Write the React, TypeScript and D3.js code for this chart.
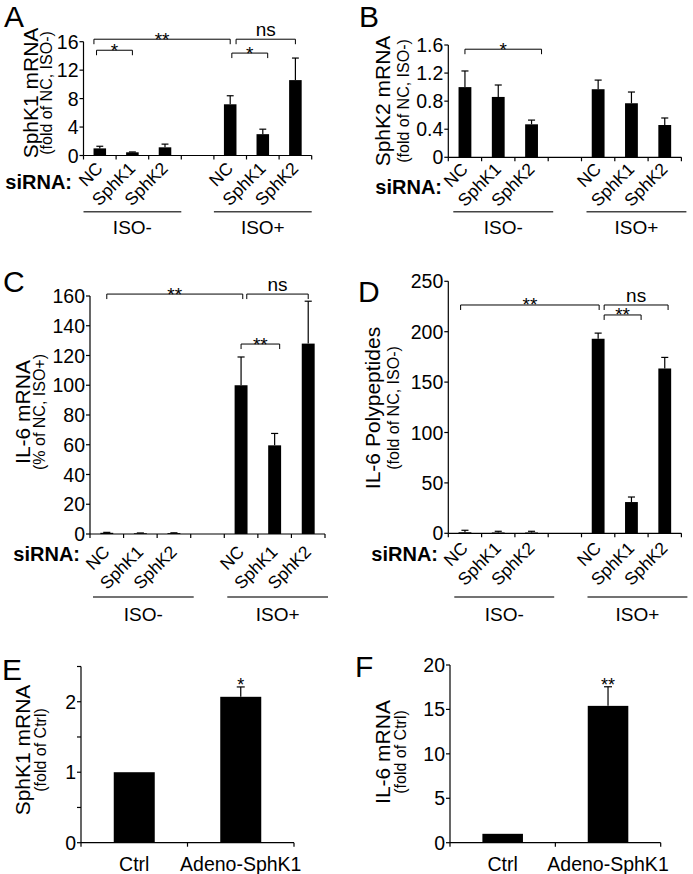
import React from "react";
import * as d3 from "d3";

// ---------- data ----------
const siRNA = ["NC", "SphK1", "SphK2"];
const isoGroups = ["ISO-", "ISO+"];
const siSlots = [0, 1, 2, 4, 5, 6];
const adenoCats = ["Ctrl", "Adeno-SphK1"];

const aMean = [1.0, 0.45, 1.15, 7.2, 3.0, 10.6];
const aSem = [0.3, 0.05, 0.45, 1.2, 0.7, 3.1];
const aTicks = [0, 4, 8, 12, 16];
const aBrackets: [number, number, number, string][] = [
  [-0.18, 4, 16.35, "**"],
  [4.18, 6, 16.35, "ns"],
  [-0.1, 1, 14.8, "*"],
  [4.05, 5.15, 14.4, "*"],
];

const bMean = [1.0, 0.86, 0.47, 0.97, 0.77, 0.46];
const bSem = [0.23, 0.17, 0.06, 0.13, 0.16, 0.1];
const bTicks = [0, 0.4, 0.8, 1.2, 1.6];
const bBrackets: [number, number, number, string][] = [[0, 2.3, 1.54, "*"]];

const cMean = [0.8, 0.5, 0.6, 100, 59.6, 128];
const cSem = [0.3, 0.2, 0.2, 19, 8, 28.5];
const cTicks = [0, 20, 40, 60, 80, 100, 120, 140, 160];
const cBrackets: [number, number, number, string][] = [
  [0, 4.05, 161.3, "**"],
  [4.17, 6, 161.3, "ns"],
  [4, 5.15, 127.7, "**"],
];

const dMean = [1.0, 0.8, 0.8, 193, 31, 163.5];
const dSem = [2, 1.2, 1.2, 5.6, 5, 11];
const dTicks = [0, 50, 100, 150, 200, 250];
const dBrackets: [number, number, number, string][] = [
  [-0.13, 4.03, 226.5, "**"],
  [4.18, 6.1, 226.5, "ns"],
  [4.18, 5.29, 216.6, "**"],
];

const eMean = [1.0, 2.07];
const eSem = [0, 0.14];
const eTicks = [0, 0.5, 1, 1.5, 2, 2.5];
const eLabelTicks = [0, 1, 2];
const eStars = ["", "*"];

const fMean = [1.0, 15.4];
const fSem = [0, 2.15];
const fTicks = [0, 5, 10, 15, 20];
const fStars = ["", "**"];

// ---------- drawing ----------
const FONT = "'Liberation Sans', Arial, Helvetica, sans-serif";

type Layout = {
  x0: number; x1: number; yBase: number; yTop: number;
  titleX: number; subX: number; titleY: number;
  letterX: number; letterY: number;
  siX?: number; siY?: number;
  catDx?: number; catDy?: number;
  lineY?: number; lineOff?: number; isoY?: number;
};

function fmt(t: number) {
  return t === 0 ? "0" : String(+t.toFixed(2));
}

function Panel(props: {
  L: Layout; nSlots: number; slots: number[]; means: number[]; sems: number[];
  domain: [number, number]; ticks: number[]; labelTicks?: number[];
  brackets?: [number, number, number, string][]; stars?: string[];
  title: string; subtitle: string; letter: string;
  rotatedCats?: string[]; flatCats?: string[]; groups?: string[];
}) {
  const { L, nSlots, slots, means, sems, domain, ticks } = props;
  const labelTicks = props.labelTicks ?? ticks;
  const x = d3.scaleLinear().domain([-0.5, nSlots - 0.5]).range([L.x0, L.x1]);
  const band = (L.x1 - L.x0) / nSlots;
  const y = d3.scaleLinear().domain(domain).range([L.yBase, L.yTop]);
  const bw = band * 0.385;
  const cap = Math.min(8, bw * 0.55);
  const fs = 19.5;

  return (
    <g fontFamily={FONT} fill="#000">
      <text x={L.letterX} y={L.letterY} fontSize={30}>{props.letter}</text>
      <text transform={`translate(${L.titleX},${L.titleY}) rotate(-90)`} textAnchor="middle" fontSize={21}>{props.title}</text>
      <text transform={`translate(${L.subX},${L.titleY}) rotate(-90)`} textAnchor="middle" fontSize={16}>{props.subtitle}</text>

      {/* bars */}
      {means.map((m, i) => (
        <rect key={"b" + i} x={x(slots[i]) - bw / 2} y={y(m)} width={bw} height={L.yBase - y(m)} fill="#000" />
      ))}
      {/* error bars */}
      {means.map((m, i) =>
        sems[i] > 0 ? (
          <g key={"e" + i} stroke="#000" strokeWidth={1.2}>
            <line x1={x(slots[i])} x2={x(slots[i])} y1={y(m)} y2={y(m + sems[i])} />
            <line x1={x(slots[i]) - cap / 2} x2={x(slots[i]) + cap / 2} y1={y(m + sems[i])} y2={y(m + sems[i])} />
          </g>
        ) : null
      )}
      {/* stars above bars */}
      {props.stars && props.stars.map((s, i) => (
        <text key={"s" + i} x={x(slots[i])} y={y(means[i] + sems[i]) + 4} textAnchor="middle" fontSize={18}>{s}</text>
      ))}

      {/* y axis */}
      <line x1={L.x0} x2={L.x0} y1={y(domain[1])} y2={L.yBase} stroke="#000" strokeWidth={1.2} />
      {ticks.map((t) => (
        <line key={"yt" + t} x1={L.x0 - 4} x2={L.x0} y1={y(t)} y2={y(t)} stroke="#000" strokeWidth={1.2} />
      ))}
      {labelTicks.map((t) => (
        <text key={"yl" + t} x={L.x0 - 5} y={y(t)} dy="0.36em" textAnchor="end" fontSize={fs}>{fmt(t)}</text>
      ))}
      {/* x axis */}
      <line x1={L.x0} x2={L.x1} y1={L.yBase} y2={L.yBase} stroke="#000" strokeWidth={1.2} />
      {d3.range(nSlots + 1).map((k) => (
        <line key={"xt" + k} x1={L.x0 + k * band} x2={L.x0 + k * band} y1={L.yBase} y2={L.yBase + 4} stroke="#000" strokeWidth={1.2} />
      ))}

      {/* significance brackets */}
      {props.brackets && props.brackets.map(([a, b, v, lab], i) => {
        const yy = y(v);
        const xa = x(a), xb = x(b);
        return (
          <g key={"br" + i}>
            <path d={`M${xa},${yy + 5}V${yy}H${xb}V${yy + 5}`} fill="none" stroke="#000" strokeWidth={1} />
            <text x={(xa + xb) / 2} y={lab === "ns" ? yy - 3 : yy + 6.5} textAnchor="middle" fontSize={19}>{lab}</text>
          </g>
        );
      })}

      {/* rotated category labels */}
      {props.rotatedCats && props.rotatedCats.map((c, i) => (
        <text key={"c" + i} transform={`translate(${x(slots[i]) + (L.catDx ?? 0)},${L.yBase + (L.catDy ?? 0)}) rotate(-45)`} textAnchor="end" fontSize={17.5}>{c}</text>
      ))}
      {props.rotatedCats && (
        <text x={L.siX} y={L.siY} textAnchor="end" fontSize={20} fontWeight="bold">siRNA:</text>
      )}
      {props.groups && props.groups.map((g, gi) => {
        const s = gi === 0 ? 0 : 4;
        const xa = L.x0 + s * band + (L.lineOff ?? 0);
        const xb = L.x0 + (s + 3) * band + (L.lineOff ?? 0);
        return (
          <g key={"g" + gi}>
            <line x1={xa} x2={xb} y1={L.lineY} y2={L.lineY} stroke="#444" strokeWidth={1.6} />
            <text x={(xa + xb) / 2} y={L.isoY} textAnchor="middle" fontSize={19}>{g}</text>
          </g>
        );
      })}
      {props.flatCats && props.flatCats.map((c, i) => (
        <text key={"f" + i} x={x(slots[i])} y={L.yBase + 28} textAnchor="middle" fontSize={19.5}>{c}</text>
      ))}
    </g>
  );
}

export default function App() {
  const siCats = [...siRNA, ...siRNA];
  return (
    <svg width={693} height={874} style={{ position: "absolute", left: 0, top: 0, background: "#fff" }}>
      <rect width={693} height={874} fill="#fff" />
      <Panel
        L={{ x0: 83.5, x1: 311.7, yBase: 155.5, yTop: 41.7, titleX: 38, subX: 52, titleY: 93, letterX: 4, letterY: 27,
          siX: 72, siY: 189, catDx: 4, catDy: 14, lineY: 211.7, lineOff: 0, isoY: 234 }}
        nSlots={7} slots={siSlots} means={aMean} sems={aSem} domain={[0, 16]} ticks={aTicks}
        brackets={aBrackets} title="SphK1 mRNA" subtitle="(fold of NC, ISO-)" letter="A"
        rotatedCats={siCats} groups={isoGroups}
      />
      <Panel
        L={{ x0: 448.3, x1: 681.4, yBase: 157.3, yTop: 45, titleX: 390, subX: 409, titleY: 101, letterX: 359, letterY: 27,
          siX: 442, siY: 194, catDx: 4, catDy: 13, lineY: 211.7, lineOff: 5, isoY: 234 }}
        nSlots={7} slots={siSlots} means={bMean} sems={bSem} domain={[0, 1.6]} ticks={bTicks}
        brackets={bBrackets} title="SphK2 mRNA" subtitle="(fold of NC, ISO-)" letter="B"
        rotatedCats={siCats} groups={isoGroups}
      />
      <Panel
        L={{ x0: 90, x1: 325, yBase: 534, yTop: 296, titleX: 30, subX: 45, titleY: 412, letterX: 3, letterY: 292,
          siX: 80, siY: 561, catDx: 4, catDy: 19, lineY: 597, lineOff: 3, isoY: 621 }}
        nSlots={7} slots={siSlots} means={cMean} sems={cSem} domain={[0, 160]} ticks={cTicks}
        brackets={cBrackets} title="IL-6 mRNA" subtitle="(% of NC, ISO+)" letter="C"
        rotatedCats={siCats} groups={isoGroups}
      />
      <Panel
        L={{ x0: 448.3, x1: 681.4, yBase: 533.3, yTop: 281.3, titleX: 380, subX: 399, titleY: 408, letterX: 358, letterY: 302,
          siX: 438, siY: 561, catDx: 4, catDy: 16, lineY: 597, lineOff: 6, isoY: 621 }}
        nSlots={7} slots={siSlots} means={dMean} sems={dSem} domain={[0, 250]} ticks={dTicks}
        brackets={dBrackets} title="IL-6 Polypeptides" subtitle="(fold of NC, ISO-)" letter="D"
        rotatedCats={siCats} groups={isoGroups}
      />
      <Panel
        L={{ x0: 81, x1: 294, yBase: 842.7, yTop: 666.5, titleX: 30, subX: 46, titleY: 750, letterX: 2, letterY: 680 }}
        nSlots={2} slots={[0, 1]} means={eMean} sems={eSem} domain={[0, 2.5]} ticks={eTicks} labelTicks={eLabelTicks}
        stars={eStars} title="SphK1 mRNA" subtitle="(fold of Ctrl)" letter="E" flatCats={adenoCats}
      />
      <Panel
        L={{ x0: 450, x1: 660.7, yBase: 842.7, yTop: 665, titleX: 390, subX: 406, titleY: 752, letterX: 355, letterY: 677 }}
        nSlots={2} slots={[0, 1]} means={fMean} sems={fSem} domain={[0, 20]} ticks={fTicks}
        stars={fStars} title="IL-6 mRNA" subtitle="(fold of Ctrl)" letter="F" flatCats={adenoCats}
      />
    </svg>
  );
}
